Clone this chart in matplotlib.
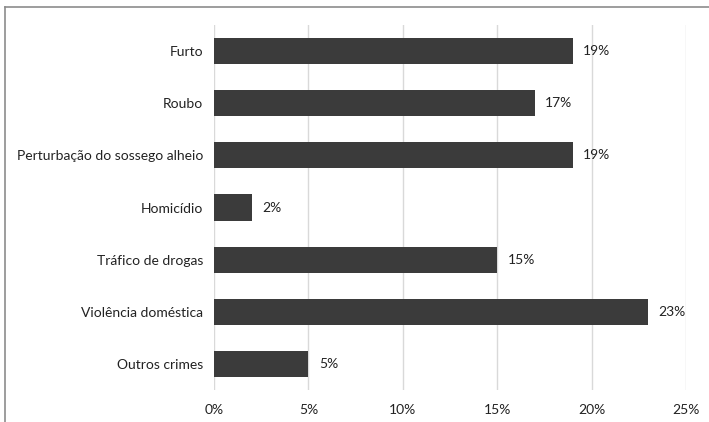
import matplotlib
matplotlib.use("Agg")
import matplotlib.pyplot as plt
from matplotlib.lines import Line2D

categories = ["Furto", "Roubo", "Perturbação do sossego alheio", "Homicídio",
              "Tráfico de drogas", "Violência doméstica", "Outros crimes"]
values = [19, 17, 19, 2, 15, 23, 5]
xticks = [0, 5, 10, 15, 20, 25]
xtick_labels = ["0%", "5%", "10%", "15%", "20%", "25%"]

plt.rcParams['font.family'] = ['Lato', 'DejaVu Sans']

fig = plt.figure(figsize=(7.09, 4.22), dpi=100)
ax = fig.add_axes([214/709, 32/422, 472/709, 365/422])

ypos = list(range(len(categories)))
ax.barh(ypos, values, height=0.5, color="#3b3b3b", zorder=3)
for y, v in zip(ypos, values):
    ax.text(v + 0.55, y, f"{v}%", va="center", ha="left", fontsize=10, color="#222222")

ax.set_xlim(0, 25)
ax.set_ylim(len(categories) - 0.5, -0.5)
ax.set_yticks(ypos)
ax.set_yticklabels(categories, fontsize=10, color="#222222")
ax.set_xticks(xticks)
ax.set_xticklabels(xtick_labels, fontsize=10, color="#222222")
ax.tick_params(length=0)
ax.tick_params(axis="x", pad=10)
ax.tick_params(axis="y", pad=8)
ax.grid(axis="x", color="#d9d9d9", linewidth=1, zorder=0)
for s in ax.spines.values():
    s.set_visible(False)

fig.add_artist(Line2D([5/709, 1.0], [1 - 7/422, 1 - 7/422], transform=fig.transFigure,
                      color="#8c8c8c", linewidth=1.2))
fig.add_artist(Line2D([5/709, 5/709], [0, 1 - 7/422], transform=fig.transFigure,
                      color="#8c8c8c", linewidth=1.2))

fig.savefig("out.png", dpi=100)
